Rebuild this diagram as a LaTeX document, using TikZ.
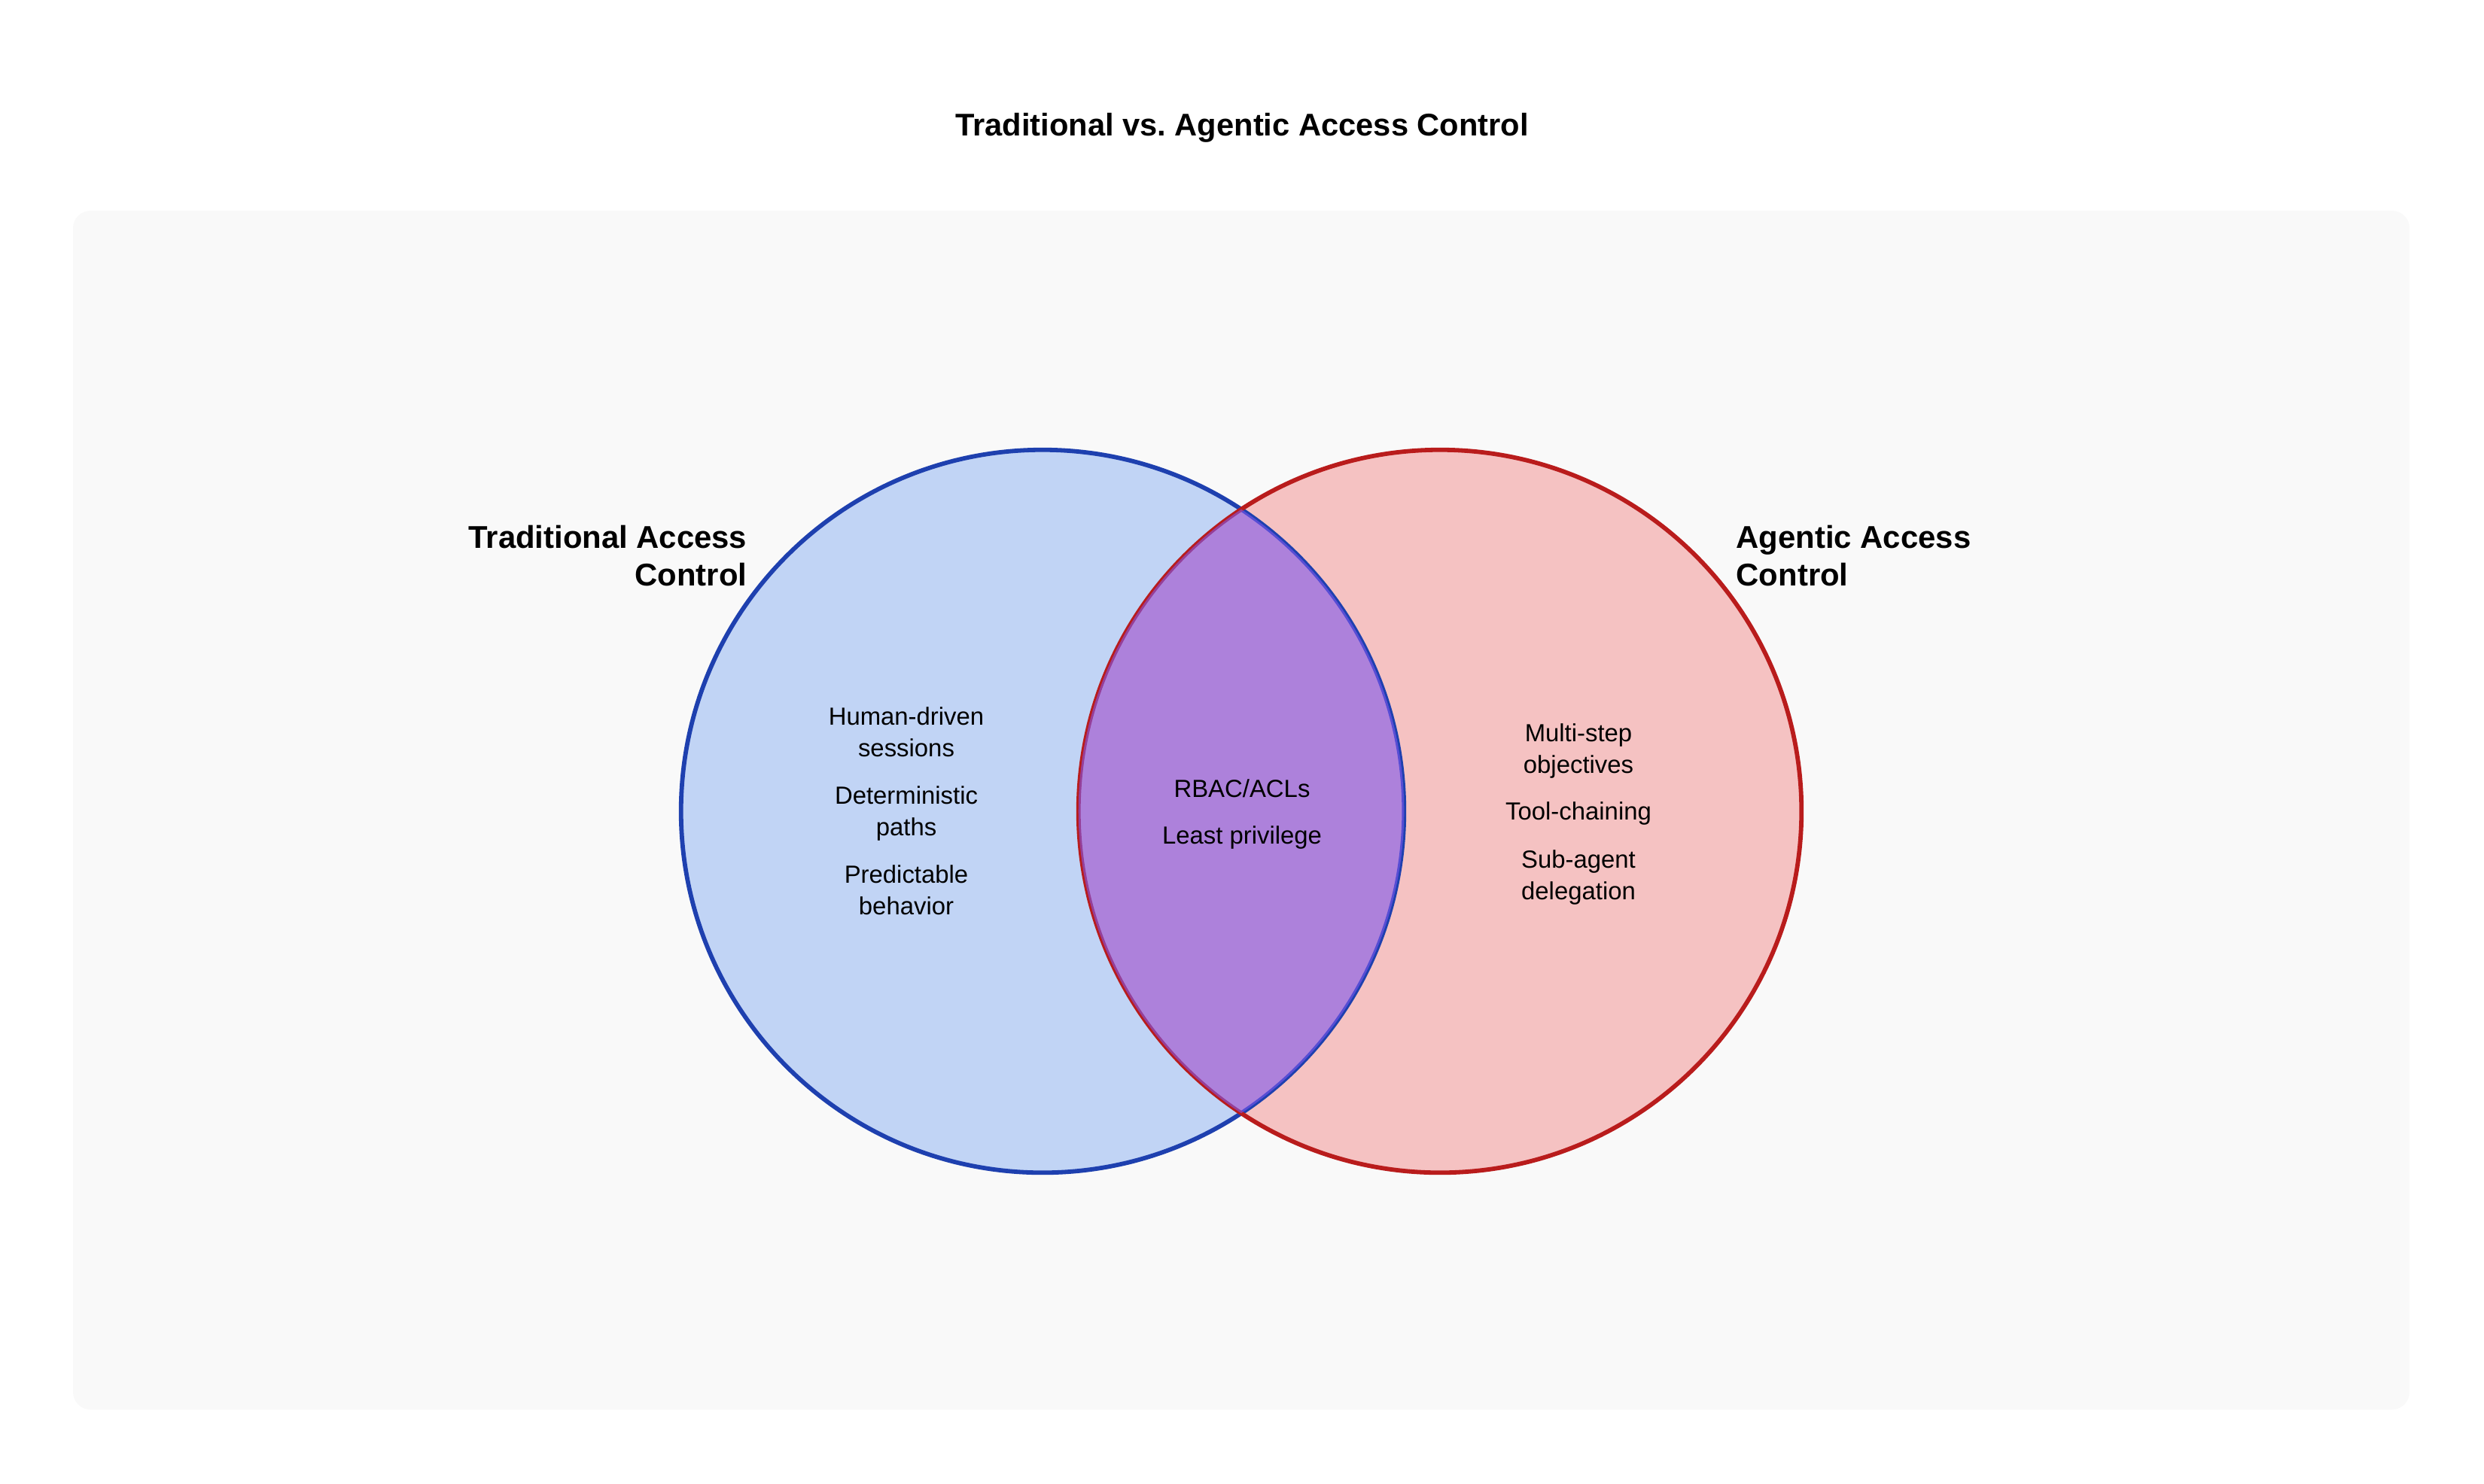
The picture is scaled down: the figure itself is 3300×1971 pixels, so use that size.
\documentclass[tikz,border=0pt]{standalone}
\usepackage{fontspec}
\setmainfont{Liberation Sans}
\usetikzlibrary{positioning}
\definecolor{tradblue}{HTML}{1E40AF}
\definecolor{tradfill}{HTML}{C1D4F5}
\definecolor{agentred}{HTML}{B91C1C}
\definecolor{agentfill}{HTML}{F5C2C2}
\definecolor{overlapviolet}{RGB}{125,87,237}
\definecolor{panelgray}{HTML}{F9F9F9}

\begin{document}
\begin{tikzpicture}[x=0.01cm, y=-0.01cm,
    heading/.style={font=\fontsize{11.85}{14}\selectfont\bfseries},
    setname/.style={font=\fontsize{11.9}{14.2}\selectfont\bfseries, inner sep=0pt},
    item/.style={font=\fontsize{9.35}{11.7}\selectfont, align=center, inner sep=0pt},
    ring/.style={line width=1.65pt}]

    \useasboundingbox (0,0) rectangle (3300,1971);

    % PANEL
    \fill[panelgray, rounded corners=0.23cm] (97,280) rectangle (3201,1873);

    \node[heading, anchor=base] (title) at (1650,180)
        {Traditional vs.\ Agentic Access Control};

    % CIRCLES
    \coordinate (trad) at (1385,1078);
    \coordinate (agent) at (1913,1078);
    \fill[tradfill] (trad) circle (4.8cm);
    \fill[agentfill] (agent) circle (4.8cm);
    \draw[ring, tradblue] (trad) circle (4.8cm);
    \draw[ring, agentred] (agent) circle (4.8cm);
    \begin{scope}
        \clip (trad) circle (4.8cm);
        \fill[overlapviolet, fill opacity=0.6] (agent) circle (4.8cm);
    \end{scope}

    % SET NAMES (base = last line)
    \node[setname, anchor=base east, align=right] (tradname) at (993,778)
        {Traditional Access\\Control};
    \node[setname, anchor=base west, align=left] (agentname) at (2306,778)
        {Agentic Access\\Control};

    % TRADITIONAL ONLY
    \node[item, anchor=base] (human) at (1204,1005) {Human-driven\\sessions};
    \node[item, anchor=base] (determ) at (1204,1110) {Deterministic\\paths};
    \node[item, anchor=base] (predict) at (1204,1215) {Predictable\\behavior};

    % SHARED
    \node[item, anchor=base] (rbac) at (1650,1059) {RBAC/ACLs};
    \node[item, anchor=base] (least) at (1650,1121) {Least privilege};

    % AGENTIC ONLY
    \node[item, anchor=base] (multi) at (2097,1027) {Multi-step\\objectives};
    \node[item, anchor=base] (toolchain) at (2097,1089) {Tool-chaining};
    \node[item, anchor=base] (subagent) at (2097,1195) {Sub-agent\\delegation};

\end{tikzpicture}
\end{document}
